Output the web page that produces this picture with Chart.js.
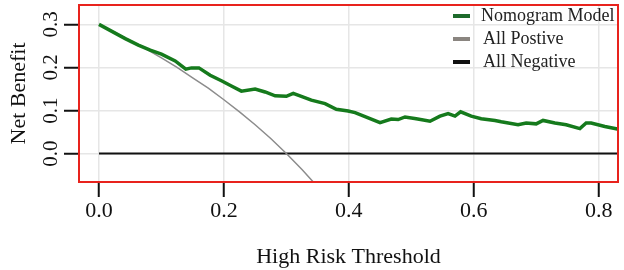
<!DOCTYPE html>
<html>
<head>
<meta charset="utf-8">
<script src="https://cdn.jsdelivr.net/npm/chart.js@4"></script>
<style>
  html, body { margin: 0; padding: 0; background: #fff; }
  #wrap { width: 624px; height: 270px; }
</style>
</head>
<body>
<div id="wrap"><canvas id="dca"></canvas></div>
<script>
// thresholds and net benefit
var modelX = [0, 0.042, 0.063, 0.082, 0.100, 0.122, 0.139, 0.148, 0.160, 0.178, 0.196, 0.212, 0.228, 0.250, 0.266, 0.282, 0.300, 0.311, 0.324, 0.340, 0.362, 0.380, 0.399, 0.410, 0.431, 0.450, 0.468, 0.479, 0.490, 0.508, 0.530, 0.546, 0.559, 0.570, 0.579, 0.596, 0.612, 0.634, 0.644, 0.671, 0.684, 0.700, 0.711, 0.730, 0.748, 0.770, 0.780, 0.788, 0.810, 0.830];
var modelY = [0.300, 0.267, 0.252, 0.240, 0.231, 0.215, 0.196, 0.199, 0.199, 0.182, 0.169, 0.157, 0.145, 0.150, 0.143, 0.134, 0.133, 0.140, 0.133, 0.124, 0.116, 0.103, 0.099, 0.095, 0.083, 0.072, 0.080, 0.079, 0.085, 0.081, 0.075, 0.087, 0.093, 0.087, 0.097, 0.087, 0.081, 0.077, 0.074, 0.067, 0.071, 0.069, 0.077, 0.071, 0.067, 0.058, 0.071, 0.071, 0.063, 0.057];
var allPosX = [0, 0.025, 0.05, 0.075, 0.1, 0.125, 0.15, 0.175, 0.2, 0.225, 0.25, 0.275, 0.3, 0.325, 0.35];
var allPosY = [0.300, 0.282, 0.263, 0.243, 0.222, 0.200, 0.176, 0.152, 0.125, 0.097, 0.067, 0.035, 0.000, -0.037, -0.077];
var allNegX = [0, 0.83];
var allNegY = [0, 0];
var xTicks = [0, 0.2, 0.4, 0.6, 0.8];
var yTicks = [0, 0.1, 0.2, 0.3];
var seriesNames = ["Nomogram Model", "All Postive", "All Negative"];

function pts(xs, ys) {
  return xs.map(function(x, i) { return { x: x, y: ys[i] }; });
}

var serif = "'Liberation Serif', 'Times New Roman', serif";

// red frame round the plot area
var framePlugin = {
  id: 'frame',
  afterDraw: function(chart) {
    var a = chart.chartArea, c = chart.ctx;
    c.save();
    c.strokeStyle = '#e8231d';
    c.lineWidth = 2;
    c.strokeRect(a.left, a.top, a.right - a.left, a.bottom - a.top);
    c.restore();
  }
};

// legend drawn inside the top right corner
var legendPlugin = {
  id: 'innerLegend',
  afterDraw: function(chart) {
    var c = chart.ctx;
    var swatch = ['#1e6b2c', '#8a8580', '#111111'];
    c.save();
    c.font = '18px ' + serif;
    c.textBaseline = 'middle';
    c.fillStyle = '#222';
    chart.data.datasets.forEach(function(ds, i) {
      var y = 16 + i * 23;
      c.strokeStyle = swatch[i];
      c.lineWidth = 4;
      c.beginPath();
      c.moveTo(453, y);
      c.lineTo(470, y);
      c.stroke();
      c.fillText(ds.label, i === 0 ? 481 : 483, y);
    });
    c.restore();
  }
};

new Chart(document.getElementById('dca'), {
  type: 'line',
  data: {
    datasets: [{
      label: seriesNames[0],
      data: pts(modelX, modelY),
      borderColor: '#157a1c',
      borderWidth: 3.5,
      pointRadius: 0,
      order: 1
    },
    {
      label: seriesNames[1],
      data: pts(allPosX, allPosY),
      borderColor: '#8c8c8c',
      borderWidth: 1.5,
      pointRadius: 0,
      order: 2
    },
    {
      label: seriesNames[2],
      data: pts(allNegX, allNegY),
      borderColor: '#111111',
      borderWidth: 2,
      pointRadius: 0,
      order: 3
    }]
  },
  options: {
    responsive: true,
    maintainAspectRatio: false,
    animation: false,
    layout: {
      padding: { left: 0, right: 6, top: 5, bottom: 0 }
    },
    plugins: {
      legend: { display: false },
      tooltip: { enabled: false }
    },
    scales: {
      x: {
        type: 'linear',
        min: -0.032,
        max: 0.831,
        afterBuildTicks: function(scale) {
          scale.ticks = xTicks.map(function(v) { return { value: v }; });
        },
        afterFit: function(scale) {
          scale.height = 88;
          scale.paddingLeft = 0;
          scale.paddingRight = 0;
        },
        grid: {
          color: '#e6e6e6',
          lineWidth: 1.5,
          tickColor: '#111',
          tickWidth: 2,
          tickLength: 15
        },
        border: { display: false },
        ticks: {
          color: '#111',
          padding: 1,
          maxRotation: 0,
          font: { family: serif, size: 22 },
          callback: function(v) { return Number(v).toFixed(1); }
        },
        title: {
          display: true,
          text: 'High Risk Threshold',
          color: '#111',
          font: { family: serif, size: 22 },
          padding: { top: 6, bottom: 0 }
        }
      },
      y: {
        type: 'linear',
        min: -0.066,
        max: 0.345,
        afterBuildTicks: function(scale) {
          scale.ticks = yTicks.map(function(v) { return { value: v }; });
        },
        afterFit: function(scale) {
          scale.width = 79;
          scale.paddingTop = 0;
          scale.paddingBottom = 0;
        },
        grid: {
          color: '#e6e6e6',
          lineWidth: 1.5,
          tickColor: '#111',
          tickWidth: 2,
          tickLength: 15
        },
        border: { display: false },
        ticks: {
          color: '#111',
          padding: -1,
          crossAlign: 'center',
          minRotation: 90,
          maxRotation: 90,
          font: { family: serif, size: 21 },
          callback: function(v) { return Number(v).toFixed(1); }
        },
        title: {
          display: true,
          text: 'Net Benefit',
          color: '#111',
          font: { family: serif, size: 22 },
          padding: { top: 6, bottom: 0 }
        }
      }
    }
  },
  plugins: [framePlugin, legendPlugin]
});
</script>
</body>
</html>
